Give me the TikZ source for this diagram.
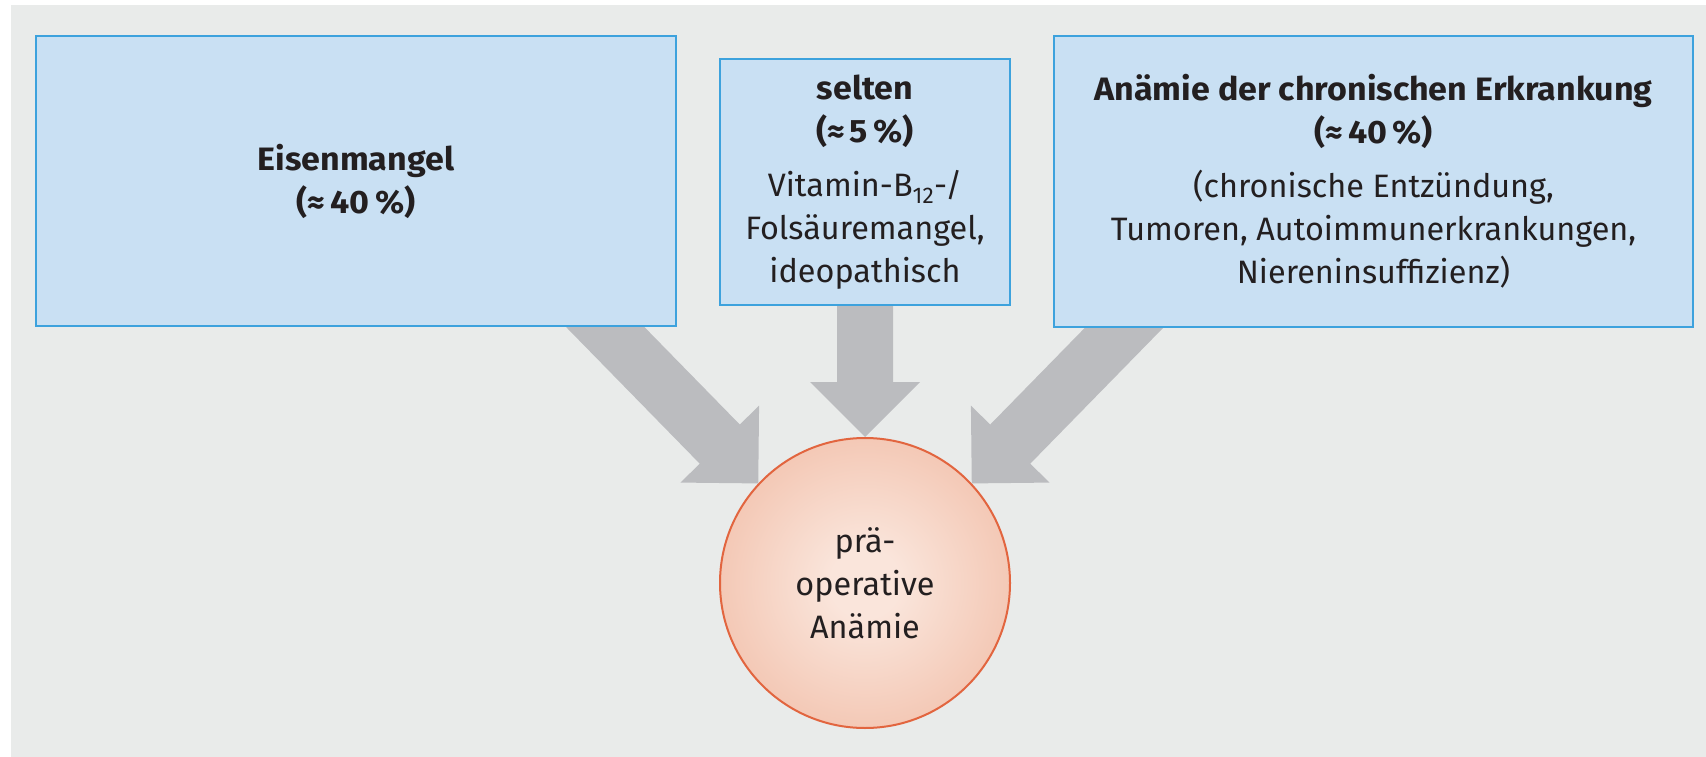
\documentclass[tikz,border=0pt]{standalone}
\usepackage{fontspec}
\setmainfont{Fira Sans}[BoldFeatures={FakeStretch=1.05}]
\usetikzlibrary{calc}

\definecolor{bggrey}{HTML}{E9EBEA}
\definecolor{boxfill}{HTML}{C9E0F3}
\definecolor{boxline}{HTML}{3DA2DD}
\definecolor{flowgrey}{HTML}{BBBCBF}
\definecolor{ballin}{HTML}{FAE5DB}
\definecolor{ballout}{HTML}{ECA689}
\definecolor{ballline}{HTML}{E2653F}
\definecolor{ink}{HTML}{231F20}

\pgfdeclareradialshading{ball}{\pgfpoint{0bp}{0bp}}{%
  color(0bp)=(ballin); color(6bp)=(ballin); color(48bp)=(ballout); color(50bp)=(ballout)}

% broad flat arrow from #1 (start, hidden under a box) to #2 (tip)
\newcommand\fatarrow[2]{%
  \path (#1) coordinate (fa-s) (#2) coordinate (fa-t)
        ($(#2)!55pt!(#1)$) coordinate (fa-h);
  \fill[flowgrey]
    ($(fa-s)!28pt!90:(fa-t)$) -- ($(fa-h)!28pt!90:(fa-t)$) --
    ($(fa-h)!55pt!90:(fa-t)$) -- (fa-t) --
    ($(fa-h)!55pt!-90:(fa-t)$) -- ($(fa-h)!28pt!-90:(fa-t)$) --
    ($(fa-s)!28pt!-90:(fa-t)$) -- cycle;
}

\tikzset{
  cause/.style={draw=boxline, fill=boxfill, line width=2.5pt, inner sep=0pt,
    align=center, text=ink, font=\fontsize{32.4}{43}\selectfont},
  result/.style={circle, draw=ballline, line width=2pt, shading=ball,
    minimum size=290pt, inner sep=0pt, align=center, text=ink,
    font=\fontsize{32.4}{43}\selectfont},
}

\begin{document}
\begin{tikzpicture}[x=1pt, y=-1pt]
  \useasboundingbox (0,0) rectangle (1706,757);
  \fill[bggrey] (11,5) rectangle (1706,757);

  % result node
  \node[result] (c) at (865,583) {prä-\\operative\\Anämie};

  % arrow tails start inside the boxes
  \coordinate (s1) at (569,290);
  \coordinate (s2) at (865,290);
  \coordinate (s3) at (1161,290);
  \fatarrow{s1}{c.137}
  \fatarrow{s2}{c.north}
  \fatarrow{s3}{c.43}

  % cause boxes
  \node[cause, minimum width=640pt, minimum height=290pt] (iron) at (356,181)
    {\bfseries Eisenmangel\\\bfseries(≈\,40\,\%)};
  \node[cause, minimum width=290pt, minimum height=246pt] (rare) at (865,182)
    {\bfseries selten\\\bfseries(≈\,5\,\%)\\[11pt]
     Vitamin-B\textsubscript{12}-/\\Folsäuremangel,\\ideopathisch};
  \node[cause, minimum width=639pt, minimum height=291pt] (chronic) at (1373.5,181.5)
    {\bfseries Anämie der chronischen Erkrankung\\\bfseries(≈\,40\,\%)\\[11pt]
     (chronische Entzündung,\\Tumoren, Autoimmunerkrankungen,\\Niereninsuffizienz)};
\end{tikzpicture}
\end{document}
